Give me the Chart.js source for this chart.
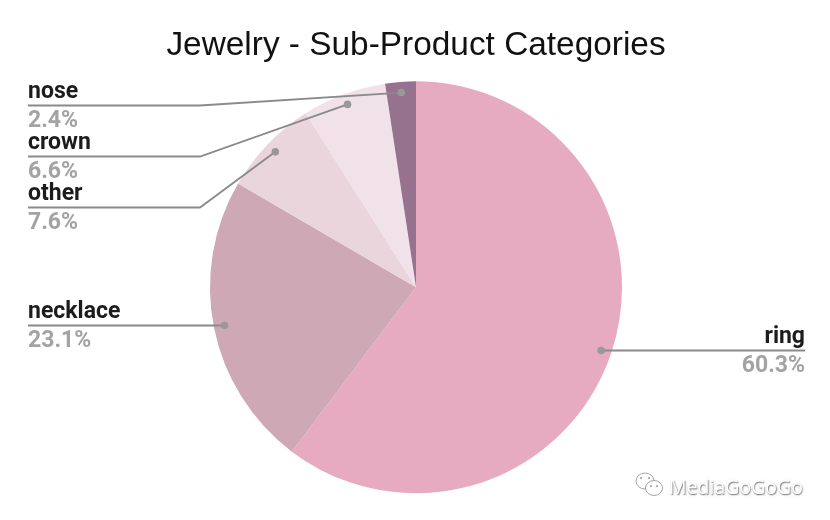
<!DOCTYPE html>
<html><head><meta charset="utf-8">
<style>html,body{margin:0;padding:0;background:#fff}#w{position:absolute;left:0;top:0;width:830px;height:520px}</style>
<script src="https://cdn.jsdelivr.net/npm/chart.js@4"></script>
</head><body><div id="w"><canvas id="c"></canvas></div>
<script>
const categories = ["ring","necklace","other","crown","nose"];
const shares = [60.3,23.1,7.6,6.6,2.4];
const sliceColors = ["#E6ABC0","#CFA8B6","#EBD5DD","#F0E2E8","#96728E"];
const valueLabels = ["60.3%","23.1%","7.6%","6.6%","2.4%"];
const chartTitle = "Jewelry - Sub-Product Categories";
const watermark = "MediaGoGoGo";

// Callout layout, one entry per slice: line height, text edge and optional elbow
const callouts = [
  {y:350.5, edge:805, align:"right"},
  {y:325.5, edge:28, align:"left"},
  {y:207.5, edge:28, align:"left", elbow:200},
  {y:156.5, edge:28, align:"left", elbow:200},
  {y:105.5, edge:28, align:"left", elbow:200}
];

const calloutPlugin = {
  id:"callouts",
  afterDatasetsDraw(chart){
    const ctx = chart.ctx, arcs = chart.getDatasetMeta(0).data;
    arcs.forEach((arc,i)=>{
      const p = arc.getProps(["x","y","startAngle","endAngle","outerRadius"],true);
      const mid = (p.startAngle+p.endAngle)/2, r = p.outerRadius*0.948;
      const ax = p.x+Math.cos(mid)*r, ay = p.y+Math.sin(mid)*r;
      const c = callouts[i];
      ctx.save();
      ctx.strokeStyle="#8a8a8a"; ctx.lineWidth=1.8;
      ctx.beginPath();
      ctx.moveTo(c.edge,c.y);
      if(c.elbow) ctx.lineTo(c.elbow,c.y);
      ctx.lineTo(ax, c.elbow ? ay : c.y);
      ctx.stroke();
      ctx.fillStyle="#999999";
      ctx.beginPath(); ctx.arc(ax, c.elbow ? ay : c.y, 3.8, 0, Math.PI*2); ctx.fill();
      ctx.textAlign=c.align;
      ctx.font='700 23px Roboto, sans-serif';
      ctx.textBaseline="alphabetic";
      ctx.fillStyle="#1c1c1c";
      ctx.fillText(categories[i],c.edge,c.y-7.5);
      ctx.fillStyle="#a3a3a3";
      ctx.fillText(valueLabels[i],c.edge,c.y+21);
      ctx.restore();
    });
    // Watermark
    ctx.save();
    ctx.font='19.5px "Open Sans", sans-serif';
    ctx.textAlign="right"; ctx.textBaseline="alphabetic";
    ctx.fillStyle="#ffffff";
    ctx.shadowColor="rgba(70,70,70,.85)"; ctx.shadowBlur=1.5; ctx.shadowOffsetX=0.6; ctx.shadowOffsetY=0.6;
    ctx.fillText(watermark,803,494);
    ctx.shadowColor="transparent";
    ctx.strokeStyle="#a5a5a5"; ctx.lineWidth=1;
    ctx.fillStyle="#fff";
    ctx.beginPath(); ctx.ellipse(645,481,9,8,0,0,Math.PI*2); ctx.fill(); ctx.stroke();
    ctx.beginPath(); ctx.ellipse(654,488,8.5,7.5,0,0,Math.PI*2); ctx.fill(); ctx.stroke();
    ctx.fillStyle="#9a9a9a";
    [[641,478],[649,478],[651,486],[657,486]].forEach(d=>{ctx.beginPath();ctx.arc(d[0],d[1],1,0,7);ctx.fill();});
    ctx.restore();
  }
};

new Chart(document.getElementById("c"),{
  type:"pie",
  data:{labels:categories,datasets:[{data:shares,backgroundColor:sliceColors,borderWidth:0,radius:206}]},
  options:{
    responsive:true,maintainAspectRatio:false,animation:false,
    layout:{padding:{left:2,right:0,top:0,bottom:25}},
    plugins:{
      legend:{display:false},tooltip:{enabled:false},
      title:{display:true,text:chartTitle,color:"#111111",
        font:{family:'Arial, Helvetica, sans-serif',size:33.4,weight:"normal"},
        padding:{top:26,bottom:13.5}}
    }
  },
  plugins:[calloutPlugin]
});
</script></body></html>
